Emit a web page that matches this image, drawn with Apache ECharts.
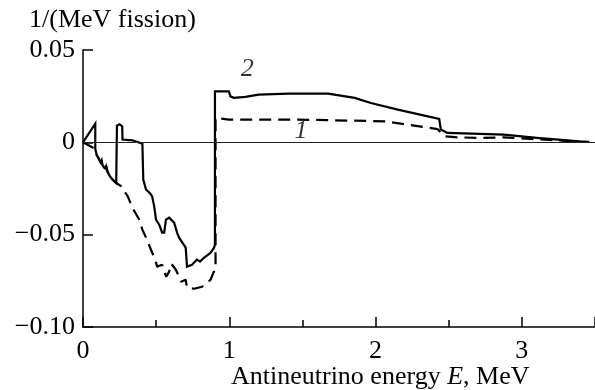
<!DOCTYPE html>
<html>
<head>
<meta charset="utf-8">
<script src="https://cdn.jsdelivr.net/npm/echarts@6/dist/echarts.min.js"></script>
<style>
  html, body { margin: 0; padding: 0; background: #fff; }
  #chart { width: 595px; height: 390px; }
</style>
</head>
<body>
<div id="chart"></div>
<script>
// Curve 2 (solid): spectrum difference, energy in MeV and value in 1/(MeV fission)
const energy2 = [0, 0.084, 0.084, 0.093, 0.105, 0.113, 0.122, 0.128, 0.134, 0.141, 0.150, 0.158, 0.168, 0.185, 0.202, 0.227,
  0.232, 0.249, 0.268, 0.270, 0.338, 0.406, 0.412, 0.431, 0.453, 0.465, 0.473, 0.487, 0.499, 0.521, 0.541, 0.555, 0.567,
  0.589, 0.623, 0.643, 0.657, 0.702, 0.711, 0.745, 0.779, 0.800, 0.827, 0.872, 0.895, 0.902, 0.902, 0.997, 1.008, 1.031,
  1.110, 1.201, 1.404, 1.676, 1.857, 1.968, 2.152, 2.435, 2.446, 2.491, 2.715, 2.876, 3.102, 3.394, 3.462];
const value2 = [0, 0.0101, -0.0036, -0.0067, -0.0085, -0.0094, -0.0110, -0.0098, -0.0125, -0.0121, -0.0140, -0.0128, -0.0160, -0.0185, -0.0202, -0.0220,
  0.0090, 0.0098, 0.0087, 0.0015, 0.0011, -0.0007, -0.0202, -0.0256, -0.0272, -0.0283, -0.0294, -0.0348, -0.0419, -0.0446, -0.0489, -0.0489, -0.0419,
  -0.0408, -0.0435, -0.0489, -0.0516, -0.0570, -0.0673, -0.0663, -0.0635, -0.0646, -0.0625, -0.0598, -0.0572, -0.0554, 0.0276, 0.0276, 0.0249, 0.0241,
  0.0246, 0.0258, 0.0264, 0.0264, 0.0241, 0.0213, 0.0177, 0.0127, 0.0069, 0.0051, 0.0046, 0.0042, 0.0024, 0.0005, 0.0002];

// Curve 1 (dashed)
const energy1 = [0, 0.084, 0.093, 0.105, 0.113, 0.122, 0.128, 0.134, 0.141, 0.150, 0.158, 0.168, 0.185, 0.202, 0.227,
  0.261, 0.306, 0.338, 0.385, 0.406, 0.431, 0.473, 0.487, 0.507, 0.541, 0.569, 0.589, 0.603, 0.635, 0.671, 0.702, 0.711,
  0.759, 0.814, 0.872, 0.906, 0.906, 0.997, 1.472, 2.061, 2.240, 2.423, 2.469, 2.559, 2.715, 2.876, 3.055, 3.239, 3.394];
const value1 = [0, -0.0036, -0.0067, -0.0085, -0.0094, -0.0110, -0.0098, -0.0125, -0.0121, -0.0140, -0.0128, -0.0160, -0.0185, -0.0202, -0.0220,
  -0.0238, -0.0293, -0.0354, -0.0419, -0.0473, -0.0516, -0.0598, -0.0619, -0.0673, -0.0663, -0.0728, -0.0700, -0.0657, -0.0690, -0.0755, -0.0744, -0.0787,
  -0.0793, -0.0782, -0.0744, -0.0679, 0.0132, 0.0123, 0.0123, 0.0114, 0.0093, 0.0072, 0.0033, 0.0027, 0.0024, 0.0027, 0.0018, 0.0011, 0.0002];

// Curve numbers placed next to each curve
const curveTags = ['2', '1'];
const curveTagE = [1.123, 1.49];
const curveTagV = [0.0394, 0.0058];

// Axis tick labels
const yTickValues = [0.05, 0, -0.05, -0.1];
const yTickLabels = ['0.05', '0', '\u22120.05', '\u22120.10'];
const xTickValues = [0, 1, 2, 3];
const xTickLabels = ['0', '1', '2', '3'];

const FONT = '"Liberation Serif", "Times New Roman", serif';
const FS = 26;
const zip = (xs, ys) => xs.map((x, i) => [x, ys[i]]);

const chart = echarts.init(document.getElementById('chart'), null, { renderer: 'canvas' });

chart.setOption({
  animation: false,
  backgroundColor: '#ffffff',
  title: [
    {
      text: '1/(MeV fission)',
      left: 24, top: 2,
      textStyle: { fontFamily: FONT, fontSize: FS, fontWeight: 'normal', color: '#000' }
    },
    {
      text: '{a|Antineutrino energy }{i|E}{a|, MeV}',
      left: 226, top: 359,
      textStyle: {
        fontWeight: 'normal',
        rich: {
          a: { fontFamily: FONT, fontSize: FS, fontWeight: 'normal', color: '#000' },
          i: { fontFamily: FONT, fontSize: FS, fontWeight: 'normal', fontStyle: 'italic', color: '#000' }
        }
      }
    }
  ],
  grid: { left: 83, right: -4, top: 50, bottom: 63, containLabel: false },
  xAxis: {
    type: 'value', min: 0, max: 3.5, interval: 1,
    axisLine: { show: true, onZero: false, lineStyle: { color: '#000', width: 1.5 } },
    axisTick: { show: true, inside: true, length: 10, lineStyle: { color: '#000', width: 1.5 } },
    minorTick: { show: true, splitNumber: 2, length: 7, lineStyle: { color: '#000', width: 1.5 } },
    splitLine: { show: false },
    axisLabel: {
      margin: 11, fontFamily: FONT, fontSize: FS, color: '#000',
      showMaxLabel: false,
      formatter: v => { const i = xTickValues.indexOf(Math.round(v * 1000) / 1000); return i >= 0 ? xTickLabels[i] : ''; }
    }
  },
  yAxis: {
    type: 'value', min: -0.1, max: 0.05, interval: 0.05,
    axisLine: { show: true, onZero: false, lineStyle: { color: '#000', width: 1.5 } },
    axisTick: { show: true, inside: true, length: 10, lineStyle: { color: '#000', width: 1.5 } },
    splitLine: { show: false },
    axisLabel: {
      margin: 8, fontFamily: FONT, fontSize: FS, color: '#000',
      formatter: v => { const i = yTickValues.findIndex(t => Math.abs(t - v) < 1e-6); return i >= 0 ? yTickLabels[i] : ''; }
    }
  },
  series: [
    {
      name: 'curve 2', type: 'line', data: zip(energy2, value2),
      showSymbol: false, symbol: 'none',
      lineStyle: { color: '#000', width: 2.2, type: 'solid', join: 'miter' },
      z: 3,
      markLine: {
        silent: true, symbol: 'none',
        label: { show: false },
        lineStyle: { color: '#222', width: 1, type: 'solid' },
        data: [{ yAxis: 0 }]
      }
    },
    {
      name: 'curve 1', type: 'line', data: zip(energy1, value1),
      showSymbol: false, symbol: 'none',
      lineStyle: { color: '#000', width: 2.2, type: [12, 7] },
      z: 2
    },
    {
      name: 'tags', type: 'scatter', symbolSize: 0,
      data: curveTagE.map((e, i) => ({ value: [e, curveTagV[i]], name: curveTags[i] })),
      label: {
        show: true, position: 'inside', formatter: p => p.name,
        fontFamily: FONT, fontSize: FS, fontStyle: 'italic', color: '#000'
      },
      z: 4
    }
  ]
});
</script>
</body>
</html>
